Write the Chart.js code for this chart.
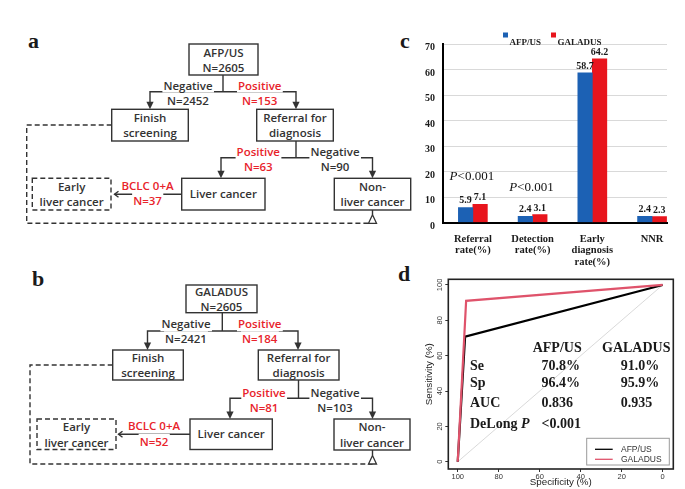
<!DOCTYPE html>
<html>
<head>
<meta charset="utf-8">
<script src="https://cdn.jsdelivr.net/npm/chart.js@4.4.0/dist/chart.umd.min.js"></script>
<style>
html, body { margin: 0; padding: 0; background: #fff; }
body { width: 685px; height: 489px; position: relative; overflow: hidden; }
#flow { position: absolute; left: 0; top: 0; }
.wrap { position: absolute; }
#wc { left: 390px; top: 30px; width: 295px; height: 240px; }
#wd { left: 390px; top: 270px; width: 295px; height: 219px; }
</style>
</head>
<body>
<svg id="flow" width="685" height="489"></svg>
<div class="wrap" id="wc"><canvas id="chartC"></canvas></div>
<div class="wrap" id="wd"><canvas id="chartD"></canvas></div>
<script>
// ---- data ----
// flowcharts: [total, negative, positive, liver cancer, non-liver cancer, BCLC 0+A]
const afpFlow = [2605, 2452, 153, 63, 90, 37];
const galFlow = [2605, 2421, 184, 81, 103, 52];

// panel c
const catLabels = [['Referral', 'rate(%)'], ['Detection', 'rate(%)'], ['Early', 'diagnosis', 'rate(%)'], ['NNR']];
const catPos = [0, 1, 2, 3];
const afpVals = [5.9, 2.4, 58.7, 2.4];
const galVals = [7.1, 3.1, 64.2, 2.3];
const pNotes = ['P<0.001', 'P<0.001', null, null];
const yTicksC = [0, 10, 20, 30, 40, 50, 60, 70];

// panel d
const afpSpec = [100, 96.4, 0];
const afpSens = [0, 70.8, 100];
const galSpec = [100, 95.9, 0];
const galSens = [0, 91.0, 100];
const diagSpec = [100, 0];
const diagSens = [0, 100];
const rocTicks = [0, 20, 40, 60, 80, 100];
const statNames = ['Se', 'Sp', 'AUC', 'DeLong P'];
const afpStats = ['70.8%', '96.4%', '0.836', '<0.001'];
const galStats = ['91.0%', '95.9%', '0.935', ''];

const SERIF = '"Liberation Serif", "Times New Roman", serif';
const SANS = '"Liberation Sans", Arial, sans-serif';
const BLUE = '#1c61b4';
const RED = '#e8151d';

// ---- flowcharts (svg) ----
const NS = 'http://www.w3.org/2000/svg';
const svg = document.getElementById('flow');
const INK = '#333333';
const FRED = '#e8232b';

function add(tag, attrs) {
    const e = document.createElementNS(NS, tag);
    for (const k in attrs) e.setAttribute(k, attrs[k]);
    svg.appendChild(e);
    return e;
}
function box(b, dashed) {
    add('rect', { x: b[0], y: b[1], width: b[2] - b[0], height: b[3] - b[1], fill: '#fff',
        stroke: INK, 'stroke-width': 1.4, 'stroke-dasharray': dashed ? '5,3' : 'none' });
}
function path(pts, dashed) {
    add('polyline', { points: pts.map(p => p.join(',')).join(' '), fill: 'none',
        stroke: INK, 'stroke-width': 1.4, 'stroke-dasharray': dashed ? '5,3' : 'none' });
}
function head(x, tip) {
    add('polygon', { points: `${x - 3.6},${tip - 7.5} ${x + 3.6},${tip - 7.5} ${x},${tip}`, fill: INK });
}
function text(str, x, y, color, bg) {
    const t = add('text', { x: x, y: y, 'text-anchor': 'middle', fill: color,
        'font-family': 'Open Sans', 'font-weight': 600, 'font-size': 11.5 });
    t.textContent = str;
    if (bg) {
        const bb = t.getBBox();
        const r = document.createElementNS(NS, 'rect');
        r.setAttribute('x', bb.x - 1);
        r.setAttribute('y', bb.y);
        r.setAttribute('width', bb.width + 2);
        r.setAttribute('height', bb.height);
        r.setAttribute('fill', '#fff');
        svg.insertBefore(r, t);
    }
}
function letter(ch, x, y) {
    const t = add('text', { x: x, y: y, fill: '#1a1a1a', 'font-family': SERIF, 'font-weight': 'bold', 'font-size': 22 });
    t.textContent = ch;
}

function drawFlow(g, n, name) {
    // top split
    path([[g.stem1, g.top[3]], [g.stem1, g.split1[2]]]);
    path([[g.split1[0], g.arrow1 - 7], [g.split1[0], g.split1[2]], [g.split1[1], g.split1[2]], [g.split1[1], g.arrow1 - 7]]);
    head(g.split1[0], g.arrow1);
    head(g.split1[1], g.arrow1);
    // second split
    path([[g.stem2, g.refer[3]], [g.stem2, g.split2[2]]]);
    path([[g.split2[0], g.arrow2 - 7], [g.split2[0], g.split2[2]], [g.split2[1], g.split2[2]], [g.split2[1], g.arrow2 - 7]]);
    head(g.split2[0], g.arrow2);
    head(g.split2[1], g.arrow2);
    // dashed loop back to non-liver cancer
    const lp = g.loop;
    path([[g.finish[0], lp[0]], [lp[1], lp[0]], [lp[1], lp[2]], [lp[3], lp[2]]], true);
    path([[lp[3], lp[2] - 8.5], [lp[3], g.nonliver[3]]]);
    add('polygon', { points: `${lp[3]},${lp[2] - 8.5} ${lp[3] - 4},${lp[2]} ${lp[3] + 4},${lp[2]}`,
        fill: '#fff', stroke: INK, 'stroke-width': 1.3 });
    // link liver cancer -> early
    path([[g.liver[0], g.link[1]], [g.link[0], g.link[1]]]);
    path([[g.link[0] + 4, g.link[1] - 3], [g.link[0], g.link[1]], [g.link[0] + 4, g.link[1] + 3]]);

    // boxes
    box(g.top); box(g.finish); box(g.refer); box(g.liver); box(g.nonliver); box(g.early, true);
    const cx = b => (b[0] + b[2]) / 2;
    text(name, cx(g.top), g.topText[0], INK);
    text('N=' + n[0], cx(g.top), g.topText[1], INK);
    text('Finish', cx(g.finish), g.midText[0], INK);
    text('screening', cx(g.finish), g.midText[1], INK);
    text('Referral for', cx(g.refer), g.midText[0], INK);
    text('diagnosis', cx(g.refer), g.midText[1], INK);
    text('Liver cancer', cx(g.liver), g.liverText, INK);
    text('Non-', cx(g.nonliver), g.lowText[0], INK);
    text('liver cancer', cx(g.nonliver), g.lowText[1], INK);
    text('Early', cx(g.early), g.lowText[0], INK);
    text('liver cancer', cx(g.early), g.lowText[1], INK);
    // branch labels
    text('Negative', g.lbl1[0], g.lbl1[2], INK, true);
    text('N=' + n[1], g.lbl1[0], g.lbl1[3], INK, true);
    text('Positive', g.lbl1[1], g.lbl1[2], FRED, true);
    text('N=' + n[2], g.lbl1[1], g.lbl1[3], FRED, true);
    text('Positive', g.lbl2[0], g.lbl2[2], FRED, true);
    text('N=' + n[3], g.lbl2[0], g.lbl2[3], FRED, true);
    text('Negative', g.lbl2[1], g.lbl2[2], INK, true);
    text('N=' + n[4], g.lbl2[1], g.lbl2[3], INK, true);
    text('BCLC 0+A', g.bclc[0], g.bclc[1], FRED, true);
    text('N=' + n[5], g.bclc[0], g.bclc[2], FRED, true);
}

const geoA = {
    top: [189, 44, 258, 75], topText: [57, 72], stem1: 223,
    split1: [150, 296, 91.7], arrow1: 109.3,
    lbl1: [188, 259.7, 89.5, 105],
    finish: [111.7, 109.3, 188.3, 141], refer: [256.7, 109.3, 333.3, 141], midText: [121.7, 136.7],
    stem2: 296, split2: [221, 372.5, 157.7], arrow2: 178.3,
    lbl2: [258.3, 335, 156.3, 171.3],
    liver: [181.7, 178.3, 265, 210], liverText: 198.3,
    nonliver: [334.3, 178.3, 410.7, 210], early: [32.3, 178.3, 111, 210], lowText: [191, 206],
    bclc: [147.5, 190, 205], link: [114.5, 194.3],
    loop: [125, 26.7, 223.3, 372.5]
};
const geoB = {
    top: [186, 285, 257, 312.7], topText: [296, 310.5], stem1: 222.3,
    split1: [147.5, 298, 331], arrow1: 350,
    lbl1: [186, 259.7, 328.3, 343.3],
    finish: [112.7, 350, 183.3, 380], refer: [258.3, 350, 339, 380], midText: [361.7, 376.7],
    stem2: 298.5, split2: [230, 372.5, 398.3], arrow2: 419,
    lbl2: [264, 335, 396.7, 411.7],
    liver: [190, 419, 272.3, 449.5], liverText: 437.7,
    nonliver: [334, 419, 410, 450], early: [37, 419, 116, 449.5], lowText: [431, 446.7],
    bclc: [154, 430, 445.7], link: [118.5, 434.3],
    loop: [365, 30, 464, 372.5]
};
drawFlow(geoA, afpFlow, 'AFP/US');
drawFlow(geoB, galFlow, 'GALADUS');
letter('a', 28, 48);
letter('b', 32, 286);
letter('c', 400, 48);
letter('d', 398, 281);

// ---- panel c ----
const barNotes = {
    id: 'barNotes',
    afterDatasetsDraw(chart) {
        const ctx = chart.ctx;
        ctx.save();
        ctx.fillStyle = '#1a1a1a';
        ctx.textBaseline = 'alphabetic';
        ctx.textAlign = 'center';
        ctx.font = 'bold 10px ' + SERIF;
        chart.data.datasets.forEach((ds, di) => {
            chart.getDatasetMeta(di).data.forEach((bar, i) => {
                ctx.fillText(ds.data[i].y.toFixed(1), bar.x, bar.y - 4);
            });
        });
        // significance notes
        ctx.textAlign = 'left';
        ctx.fillStyle = '#111';
        pNotes.forEach((note, i) => {
            if (!note) return;
            const top = Math.min(chart.getDatasetMeta(0).data[i].y, chart.getDatasetMeta(1).data[i].y);
            const cx = chart.scales.x.getPixelForValue(catPos[i]);
            const rest = note.slice(1);
            ctx.font = 'italic 13px ' + SERIF;
            const wP = ctx.measureText('P').width;
            ctx.font = '13px ' + SERIF;
            const wR = ctx.measureText(rest).width;
            const x0 = cx - (wP + wR) / 2 - 1;
            ctx.font = 'italic 13px ' + SERIF;
            ctx.fillText('P', x0, top - 24);
            ctx.font = '13px ' + SERIF;
            ctx.fillText(rest, x0 + wP, top - 24);
        });
        // legend
        const spots = [[113, 2.5], [161, 2.5]];
        ctx.font = 'bold 9px ' + SERIF;
        chart.data.datasets.forEach((ds, di) => {
            const s = spots[di];
            ctx.fillStyle = ds.backgroundColor;
            ctx.fillRect(s[0], s[1], 5, 5);
            ctx.fillStyle = '#222';
            ctx.fillText(ds.label, s[0] + 6.5, 14.5);
        });
        ctx.restore();
    }
};

new Chart(document.getElementById('chartC'), {
    type: 'bar',
    data: {
        datasets: [
            { label: 'AFP/US', data: catPos.map((x, i) => ({ x: x, y: afpVals[i] })), backgroundColor: BLUE, barThickness: 14.5 },
            { label: 'GALADUS', data: catPos.map((x, i) => ({ x: x, y: galVals[i] })), backgroundColor: RED, barThickness: 14.5 }
        ]
    },
    options: {
        responsive: true,
        maintainAspectRatio: false,
        animation: false,
        layout: { padding: { top: 12.5, right: 18, left: 0, bottom: 0 } },
        plugins: { legend: { display: false }, tooltip: { enabled: false } },
        scales: {
            x: {
                type: 'linear', min: -0.5, max: 3.25, offset: false,
                afterBuildTicks: s => { s.ticks = catPos.map(v => ({ value: v })); },
                afterFit: s => { s.height = 47.5; },
                grid: { display: false, offset: false },
                border: { display: true, color: '#000', width: 2 },
                ticks: {
                    callback: (v, i) => catLabels[i],
                    font: { family: SERIF, weight: 'bold', size: 10.5, lineHeight: 1.08 },
                    color: '#1a1a1a', padding: 3, maxRotation: 0, autoSkip: false
                }
            },
            y: {
                min: 0, max: 70,
                afterBuildTicks: s => { s.ticks = yTicksC.map(v => ({ value: v })); },
                afterFit: s => { s.width = 53; },
                grid: { color: '#d9d9d9', lineWidth: 1, drawTicks: false },
                border: { display: true, color: '#000', width: 2 },
                ticks: { font: { family: SERIF, weight: 'bold', size: 10 }, color: '#1a1a1a', padding: 8, labelOffset: 3.5 }
            }
        }
    },
    plugins: [barNotes]
});

// ---- panel d ----
const rocDecor = {
    id: 'rocDecor',
    afterDraw(chart) {
        const ctx = chart.ctx;
        const a = chart.chartArea;
        const ys = chart.scales.y;
        ctx.save();
        // plot frame
        ctx.strokeStyle = '#222';
        ctx.lineWidth = 1.6;
        ctx.strokeRect(a.left, a.top, a.right - a.left, a.bottom - a.top);
        // rotated y tick labels
        ctx.fillStyle = '#333';
        ctx.font = '7.5px ' + SANS;
        ctx.textAlign = 'center';
        ctx.textBaseline = 'middle';
        rocTicks.forEach(v => {
            ctx.save();
            ctx.translate(a.left - 8.3, ys.getPixelForValue(v));
            ctx.rotate(-Math.PI / 2);
            ctx.fillText(String(v), 0, 0);
            ctx.restore();
        });
        // axis titles
        ctx.fillStyle = '#222';
        ctx.font = '9.8px ' + SANS;
        ctx.fillText('Specificity (%)', (a.left + a.right) / 2, 212);
        ctx.save();
        ctx.translate(39, (a.top + a.bottom) / 2);
        ctx.rotate(-Math.PI / 2);
        ctx.fillText('Sensitivity (%)', 0, 0);
        ctx.restore();
        // legend
        ctx.strokeStyle = '#9a9a9a';
        ctx.lineWidth = 1;
        ctx.strokeRect(196.7, 168.3, 82.6, 26.7);
        ctx.textAlign = 'left';
        ctx.font = '8.5px ' + SANS;
        [1, 2].forEach((di, k) => {
            const ds = chart.data.datasets[di];
            const y = 179.3 + k * 10;
            ctx.strokeStyle = ds.borderColor;
            ctx.lineWidth = 1.3;
            ctx.beginPath();
            ctx.moveTo(205, y);
            ctx.lineTo(222.7, y);
            ctx.stroke();
            ctx.fillStyle = '#333';
            ctx.fillText(ds.label, 231, y + 0.5);
        });
        // statistics table
        ctx.textBaseline = 'alphabetic';
        ctx.fillStyle = '#1a1a1a';
        ctx.font = 'bold 14px ' + SERIF;
        ctx.fillText('AFP/US', 142.7, 81.7);
        ctx.fillText('GALADUS', 212, 81.7);
        const rowY = [100, 116.8, 137.3, 158.3];
        statNames.forEach((nm, i) => {
            ctx.font = 'bold 14px ' + SERIF;
            if (nm.endsWith(' P')) {
                const base = nm.slice(0, -1);
                ctx.fillText(base, 80, rowY[i]);
                const w = ctx.measureText(base).width;
                ctx.font = 'bold italic 14px ' + SERIF;
                ctx.fillText('P', 80 + w, rowY[i]);
                ctx.font = 'bold 14px ' + SERIF;
            } else {
                ctx.fillText(nm, 80, rowY[i]);
            }
            ctx.fillText(afpStats[i], 151.5, rowY[i]);
            ctx.fillText(galStats[i], 230.7, rowY[i]);
        });
        ctx.restore();
    }
};

new Chart(document.getElementById('chartD'), {
    type: 'scatter',
    data: {
        datasets: [
            { label: 'chance', data: diagSpec.map((x, i) => ({ x: x, y: diagSens[i] })), borderColor: '#cfcfcf', borderWidth: 0.8, showLine: true, pointRadius: 0, order: 2 },
            { label: 'AFP/US', data: afpSpec.map((x, i) => ({ x: x, y: afpSens[i] })), borderColor: '#000000', borderWidth: 2.2, showLine: true, pointRadius: 0, order: 1 },
            { label: 'GALADUS', data: galSpec.map((x, i) => ({ x: x, y: galSens[i] })), borderColor: '#DF536B', borderWidth: 2.2, showLine: true, pointRadius: 0, order: 0 }
        ]
    },
    options: {
        responsive: true,
        maintainAspectRatio: false,
        animation: false,
        layout: { padding: { top: 9.3, right: 11.7, left: 0, bottom: 0 } },
        plugins: { legend: { display: false }, tooltip: { enabled: false } },
        scales: {
            x: {
                type: 'linear', reverse: true, min: -5.2, max: 104.6,
                afterBuildTicks: s => { s.ticks = rocTicks.map(v => ({ value: v })); },
                afterFit: s => { s.height = 20; },
                grid: { drawOnChartArea: false, tickLength: 3, color: '#333' },
                border: { display: false },
                ticks: { font: { family: SANS, size: 7.5 }, color: '#333', padding: 0, maxRotation: 0, autoSkip: false }
            },
            y: {
                min: -4.1, max: 103.2,
                afterBuildTicks: s => { s.ticks = rocTicks.map(v => ({ value: v })); },
                afterFit: s => { s.width = 58.3; },
                grid: { drawOnChartArea: false, tickLength: 3, color: '#333' },
                border: { display: false },
                ticks: { display: false }
            }
        }
    },
    plugins: [rocDecor]
});
</script>
</body>
</html>
